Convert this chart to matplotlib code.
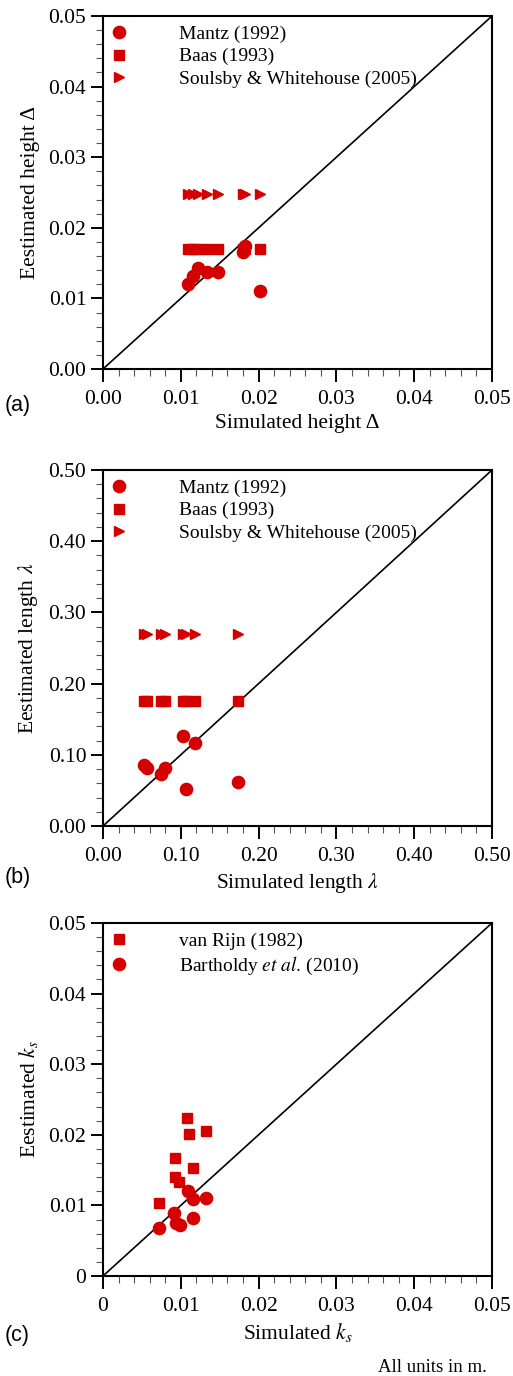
import matplotlib
matplotlib.use("Agg")
import matplotlib.pyplot as plt
from matplotlib.ticker import AutoMinorLocator, FixedLocator, FixedFormatter
from matplotlib.lines import Line2D

plt.rcParams['font.family'] = ['Liberation Serif', 'DejaVu Serif']
plt.rcParams['mathtext.fontset'] = 'stix'

# ---------------- data ----------------
# Panel (a): heights
sim_height = [0.0109, 0.0116, 0.0122, 0.0134, 0.0148, 0.0180, 0.0183, 0.0202]
mantz_height = [0.0120, 0.0132, 0.0143, 0.0137, 0.0137, 0.0166, 0.0174, 0.0110]
baas_height = [0.0170] * 8
soulsby_height = [0.0248] * 8

# Panel (b): lengths
sim_length = [0.053, 0.057, 0.074, 0.080, 0.103, 0.107, 0.118, 0.173]
mantz_length = [0.086, 0.081, 0.073, 0.082, 0.127, 0.052, 0.116, 0.062]
baas_length = [0.175] * 8
soulsby_length = [0.270] * 8

# Panel (c): roughness
sim_ks_vanrijn = [0.0108, 0.0111, 0.0132, 0.0093, 0.0116, 0.0093, 0.0098, 0.0072]
vanrijn_ks = [0.0224, 0.0201, 0.0205, 0.0167, 0.0153, 0.0140, 0.0133, 0.0103]
sim_ks_bartholdy = [0.0072, 0.0091, 0.0094, 0.0099, 0.0109, 0.0116, 0.0132, 0.0116]
bartholdy_ks = [0.0068, 0.0089, 0.0075, 0.0072, 0.0120, 0.0109, 0.0110, 0.0082]

ticks_a = [0.00, 0.01, 0.02, 0.03, 0.04, 0.05]
labels_a = ['0.00', '0.01', '0.02', '0.03', '0.04', '0.05']
ticks_b = [0.0, 0.1, 0.2, 0.3, 0.4, 0.5]
labels_b = ['0.00', '0.10', '0.20', '0.30', '0.40', '0.50']
ticks_c = [0.00, 0.01, 0.02, 0.03, 0.04, 0.05]
labels_c = ['0', '0.01', '0.02', '0.03', '0.04', '0.05']

RED = '#d40000'
W, H = 513, 1376
fig = plt.figure(figsize=(W / 100, H / 100), dpi=100)


def make_axes(top, bottom, left=103, right=492):
    return fig.add_axes([left / W, 1 - bottom / H, (right - left) / W, (bottom - top) / H])


def style(ax, ticks, labels, lim):
    ax.set_xlim(0, lim)
    ax.set_ylim(0, lim)
    for axis in (ax.xaxis, ax.yaxis):
        axis.set_major_locator(FixedLocator(ticks))
        axis.set_major_formatter(FixedFormatter(labels))
        axis.set_minor_locator(AutoMinorLocator(5))
    ax.tick_params(which='major', direction='out', length=9, width=1.4,
                   labelsize=15.5, pad=3, color='black')
    ax.tick_params(axis='x', which='major', pad=6)
    ax.tick_params(which='minor', direction='out', length=5, width=0.8, color='#555555')
    for s in ax.spines.values():
        s.set_linewidth(1.5)
    ax.plot([0, lim], [0, lim], color='black', lw=1.2, zorder=1)


def legend(ax, handles, labels, y):
    ax.legend(handles, labels, loc='upper left', bbox_to_anchor=(0.0, y),
              frameon=False, fontsize=14, handlelength=1.0, handletextpad=2.6,
              labelspacing=0.24, borderaxespad=0.0, borderpad=0.3)


circle_kw = dict(marker='o', ms=8.8, color=RED, ls='none', mec=RED, zorder=3)
square_kw = dict(marker='s', ms=6.5, color=RED, ls='none', mec=RED, zorder=3)
tri_kw = dict(marker='>', ms=7.5, color=RED, ls='none', mec=RED, zorder=3)

# ---------------- panel (a) ----------------
ax = make_axes(16, 369)
style(ax, ticks_a, labels_a, 0.05)
ax.plot(sim_height, soulsby_height, **tri_kw)
ax.plot(sim_height, baas_height, **square_kw)
ax.plot(sim_height, mantz_height, **circle_kw)
h = [Line2D([], [], **circle_kw), Line2D([], [], **square_kw), Line2D([], [], **tri_kw)]
legend(ax, h, ['Mantz (1992)', 'Baas (1993)', 'Soulsby & Whitehouse (2005)'], 0.99)
ax.set_xlabel('Simulated height Δ', fontsize=15.5, labelpad=4)
ax.set_ylabel('Eestimated height Δ', fontsize=15.5, labelpad=6)
fig.text(5 / W, 1 - 406 / H, '(a)', family='Liberation Sans', fontsize=15.5, va='center')

# ---------------- panel (b) ----------------
ax = make_axes(470, 826)
style(ax, ticks_b, labels_b, 0.5)
ax.plot(sim_length, soulsby_length, **tri_kw)
ax.plot(sim_length, baas_length, **square_kw)
ax.plot(sim_length, mantz_length, **circle_kw)
legend(ax, h, ['Mantz (1992)', 'Baas (1993)', 'Soulsby & Whitehouse (2005)'], 0.99)
ax.set_xlabel(r'Simulated length $\lambda$', fontsize=15.5, labelpad=4)
ax.set_ylabel(r'Eestimated length $\lambda$', fontsize=15.5, labelpad=6)
fig.text(5 / W, 1 - 878 / H, '(b)', family='Liberation Sans', fontsize=15.5, va='center')

# ---------------- panel (c) ----------------
ax = make_axes(923, 1276)
style(ax, ticks_c, labels_c, 0.05)
ax.plot(sim_ks_vanrijn, vanrijn_ks, **square_kw)
ax.plot(sim_ks_bartholdy, bartholdy_ks, **circle_kw)
hc = [Line2D([], [], **square_kw), Line2D([], [], **circle_kw)]
legend(ax, hc, ['van Rijn (1982)', r'Bartholdy $\mathit{et\ al.}\,$(2010)'], 0.99)
ax.set_xlabel(r'Simulated $k_s$', fontsize=15.5, labelpad=4)
ax.set_ylabel(r'Eestimated $k_s$', fontsize=15.5, labelpad=6)
fig.text(5 / W, 1 - 1335 / H, '(c)', family='Liberation Sans', fontsize=15.5, va='center')

fig.text(487 / W, 1 - 1368 / H, 'All units in m.', fontsize=13.5, ha='right', va='center')

fig.savefig('out.png', dpi=100)
